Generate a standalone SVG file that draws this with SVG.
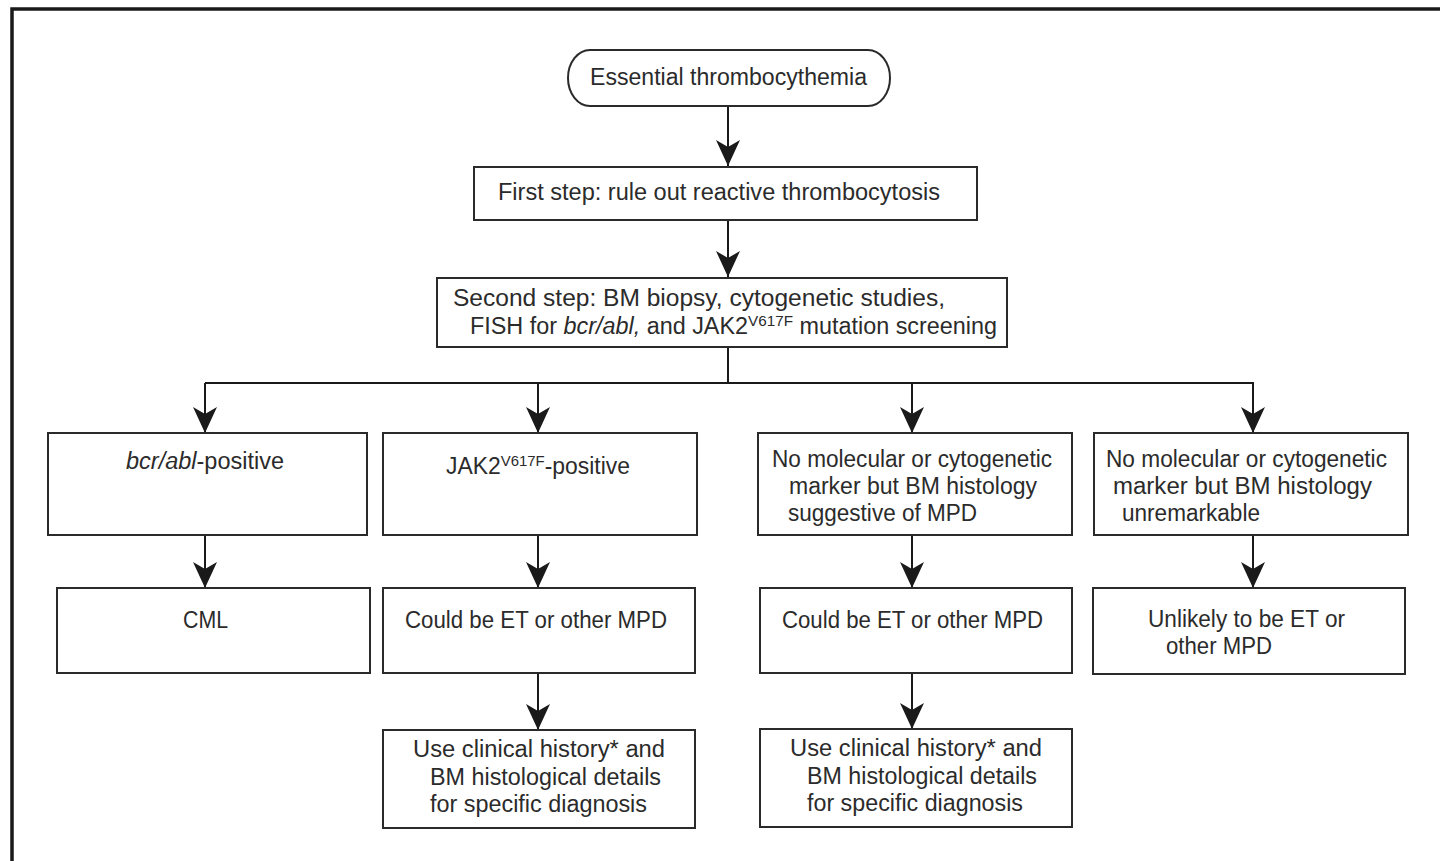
<svg xmlns="http://www.w3.org/2000/svg" width="1440" height="861" viewBox="0 0 1440 861">
<defs>
<style>
.box{fill:#fff;stroke:#2a2a2a;stroke-width:2}
.t{font-family:"Liberation Sans",Arial,sans-serif;font-size:23px;fill:#2b2b2b}
.c{stroke:#1a1a1a;stroke-width:2;fill:none}
.sup{font-size:15px}
</style>
<marker id="arr" viewBox="-28 -14 30 28" refX="0" refY="0" markerWidth="30" markerHeight="28" markerUnits="userSpaceOnUse" orient="auto">
<path d="M0,0 L-26,-12 L-19,0 L-26,12 Z" fill="#1a1a1a"/>
</marker>
</defs>
<rect width="1440" height="861" fill="#fff"/>
<path d="M12,861 V9 H1440" fill="none" stroke="#1a1a1a" stroke-width="3.5"/>

<g id="connectors">
<line class="c" x1="728" y1="106" x2="728" y2="166" marker-end="url(#arr)"/>
<line class="c" x1="728" y1="220" x2="728" y2="277" marker-end="url(#arr)"/>
<polyline class="c" points="728,347 728,383"/>
<line class="c" x1="205" y1="383" x2="1254" y2="383"/>
<line class="c" x1="205" y1="383" x2="205" y2="433" marker-end="url(#arr)"/>
<line class="c" x1="538" y1="383" x2="538" y2="433" marker-end="url(#arr)"/>
<line class="c" x1="912" y1="383" x2="912" y2="433" marker-end="url(#arr)"/>
<line class="c" x1="1253" y1="383" x2="1253" y2="433" marker-end="url(#arr)"/>
<line class="c" x1="205" y1="535" x2="205" y2="588" marker-end="url(#arr)"/>
<line class="c" x1="538" y1="535" x2="538" y2="588" marker-end="url(#arr)"/>
<line class="c" x1="912" y1="535" x2="912" y2="588" marker-end="url(#arr)"/>
<line class="c" x1="1253" y1="535" x2="1253" y2="588" marker-end="url(#arr)"/>
<line class="c" x1="538" y1="673" x2="538" y2="730" marker-end="url(#arr)"/>
<line class="c" x1="912" y1="673" x2="912" y2="729" marker-end="url(#arr)"/>
</g>

<g id="n-start">
<path class="box" d="M590,50 H868 A22,28 0 0 1 868,106 H590 A22,28 0 0 1 590,50 Z"/>
<text class="t" x="590" y="85" textLength="277" lengthAdjust="spacingAndGlyphs">Essential thrombocythemia</text>
</g>

<g id="n-first">
<rect class="box" x="474" y="167" width="503" height="53"/>
<text class="t" x="498" y="200" textLength="442" lengthAdjust="spacingAndGlyphs">First step: rule out reactive thrombocytosis</text>
</g>

<g id="n-second">
<rect class="box" x="437" y="278" width="570" height="69"/>
<text class="t" x="453" y="306" textLength="492" lengthAdjust="spacingAndGlyphs">Second step: BM biopsy, cytogenetic studies,</text>
<text class="t" x="470" y="334" textLength="527" lengthAdjust="spacingAndGlyphs">FISH for <tspan font-style="italic">bcr/abl,</tspan> and JAK2<tspan class="sup" dy="-8">V617F</tspan><tspan dy="8"> mutation screening</tspan></text>
</g>

<g id="n-bcr">
<rect class="box" x="48" y="433" width="319" height="102"/>
<text class="t" x="126" y="469" textLength="158" lengthAdjust="spacingAndGlyphs"><tspan font-style="italic">bcr/abl</tspan>-positive</text>
</g>

<g id="n-jak">
<rect class="box" x="383" y="433" width="314" height="102"/>
<text class="t" x="446" y="474" textLength="184" lengthAdjust="spacingAndGlyphs">JAK2<tspan class="sup" dy="-8">V617F</tspan><tspan dy="8">-positive</tspan></text>
</g>

<g id="n-nomol-mpd">
<rect class="box" x="758" y="433" width="314" height="102"/>
<text class="t" x="772" y="467" textLength="280" lengthAdjust="spacingAndGlyphs">No molecular or cytogenetic</text>
<text class="t" x="789" y="494" textLength="248" lengthAdjust="spacingAndGlyphs">marker but BM histology</text>
<text class="t" x="788" y="521" textLength="189" lengthAdjust="spacingAndGlyphs">suggestive of MPD</text>
</g>

<g id="n-nomol-unrem">
<rect class="box" x="1094" y="433" width="314" height="102"/>
<text class="t" x="1106" y="467" textLength="281" lengthAdjust="spacingAndGlyphs">No molecular or cytogenetic</text>
<text class="t" x="1113" y="494" textLength="259" lengthAdjust="spacingAndGlyphs">marker but BM histology</text>
<text class="t" x="1122" y="521" textLength="138" lengthAdjust="spacingAndGlyphs">unremarkable</text>
</g>

<g id="n-cml">
<rect class="box" x="57" y="588" width="313" height="85"/>
<text class="t" x="183" y="628" textLength="45" lengthAdjust="spacingAndGlyphs">CML</text>
</g>

<g id="n-could1">
<rect class="box" x="383" y="588" width="312" height="85"/>
<text class="t" x="405" y="628" textLength="262" lengthAdjust="spacingAndGlyphs">Could be ET or other MPD</text>
</g>

<g id="n-could2">
<rect class="box" x="760" y="588" width="312" height="85"/>
<text class="t" x="782" y="628" textLength="261" lengthAdjust="spacingAndGlyphs">Could be ET or other MPD</text>
</g>

<g id="n-unlikely">
<rect class="box" x="1093" y="588" width="312" height="86"/>
<text class="t" x="1148" y="627" textLength="197" lengthAdjust="spacingAndGlyphs">Unlikely to be ET or</text>
<text class="t" x="1166" y="654" textLength="106" lengthAdjust="spacingAndGlyphs">other MPD</text>
</g>

<g id="n-use1">
<rect class="box" x="383" y="730" width="312" height="98"/>
<text class="t" x="413" y="757" textLength="252" lengthAdjust="spacingAndGlyphs">Use clinical history* and</text>
<text class="t" x="430" y="785" textLength="231" lengthAdjust="spacingAndGlyphs">BM histological details</text>
<text class="t" x="430" y="812" textLength="217" lengthAdjust="spacingAndGlyphs">for specific diagnosis</text>
</g>

<g id="n-use2">
<rect class="box" x="760" y="729" width="312" height="98"/>
<text class="t" x="790" y="756" textLength="252" lengthAdjust="spacingAndGlyphs">Use clinical history* and</text>
<text class="t" x="807" y="784" textLength="230" lengthAdjust="spacingAndGlyphs">BM histological details</text>
<text class="t" x="807" y="811" textLength="216" lengthAdjust="spacingAndGlyphs">for specific diagnosis</text>
</g>
</svg>
